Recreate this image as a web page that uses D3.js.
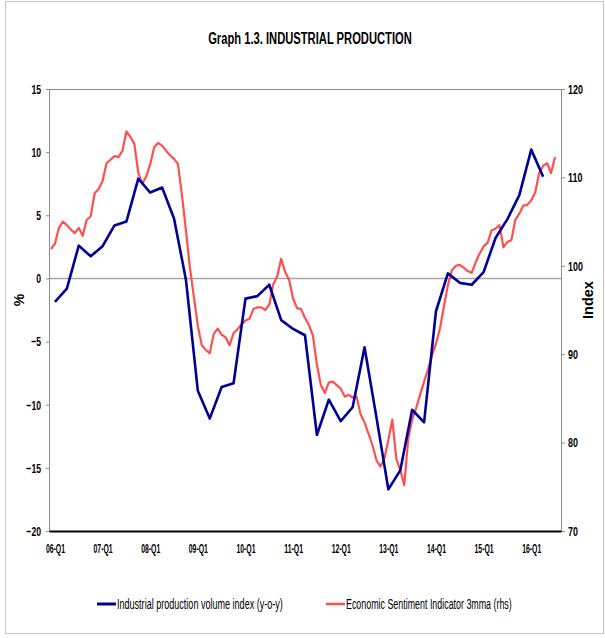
<!DOCTYPE html>
<html>
<head>
<meta charset="utf-8">
<script src="https://cdn.jsdelivr.net/npm/d3@7"></script>
<style>
  body { margin: 0; background: #fff; }
  svg { display: block; font-family: "Liberation Sans", Arial, sans-serif; }
</style>
</head>
<body>
<svg id="chart" width="605" height="638"></svg>
<script>
// ------------------------------------
// Data
// ------------------------------------
// monthly category axis, Dec 2005 (index 0) .. Aug 2016 (index 128)
const monthCount = 129;
// x-axis labels, one per year, at January of each year (index 1, 13, 25 ...)
const xTickLabels = ["06-Q1", "07-Q1", "08-Q1", "09-Q1", "10-Q1", "11-Q1",
                     "12-Q1", "13-Q1", "14-Q1", "15-Q1", "16-Q1"];
const leftTicks = [-20, -15, -10, -5, 0, 5, 10, 15];
const rightTicks = [70, 80, 90, 100, 110, 120];

// Industrial production volume index, y-o-y %, quarterly 2006-Q1 .. 2016-Q2
const ipValues = [
  -1.85, -0.8, 2.6, 1.75, 2.55, 4.2, 4.5, 7.9, 6.8, 7.2, 4.75, -0.1,
  -8.9, -11.1, -8.6, -8.3, -1.6, -1.4, -0.5, -3.3, -4.0, -4.5, -12.4, -9.6,
  -11.3, -10.2, -5.45, -11.0, -16.7, -15.2, -10.4, -11.4, -2.6, 0.4, -0.35, -0.5,
  0.5, 3.2, 4.7, 6.6, 10.2, 8.05
];

// Economic Sentiment Indicator 3mma (rhs), monthly Dec 2005 .. Jul 2016
const esiValues = [
  101.9,
  102.5, 104.3, 105.0, 104.6, 104.1, 103.7, 104.3, 103.4, 105.2, 105.6, 108.2, 108.7,
  109.6, 111.6, 112.0, 112.4, 112.3, 113.0, 115.2, 114.6, 113.8, 110.5, 109.3, 110.1,
  111.5, 113.4, 113.9, 113.6, 113.0, 112.5, 112.1, 111.5, 108.0, 104.0, 99.8, 96.5,
  93.2, 91.0, 90.5, 90.1, 92.3, 92.9, 92.2, 91.9, 91.0, 92.4, 92.8, 93.4,
  93.8, 94.0, 95.1, 95.3, 95.3, 95.0, 95.6, 97.9, 98.8, 100.8, 99.3, 98.4,
  96.3, 95.2, 95.1, 94.1, 93.3, 92.1, 88.8, 86.5, 85.6, 86.8, 86.9, 86.5,
  86.1, 85.2, 85.4, 85.1, 85.2, 83.2, 82.3, 81.0, 79.7, 78.0, 77.3, 78.2,
  80.3, 82.6, 78.2, 76.9, 75.2, 80.4, 82.6, 83.9, 85.4, 86.9, 88.3, 89.9,
  91.2, 92.9, 95.4, 97.8, 99.5, 100.0, 100.1, 99.8, 99.4, 99.2, 100.4, 101.4,
  102.2, 102.6, 104.0, 104.2, 104.6, 102.1, 102.7, 102.9, 105.2, 105.9, 106.8, 106.9,
  107.4, 108.3, 110.5, 111.3, 111.6, 110.5, 112.3
];

const seriesNames = ["Industrial production volume index (y-o-y)",
                     "Economic Sentiment Indicator 3mma (rhs)"];
const colors = ["#000096", "#ff4f4f"];

// ------------------------------------
// Layout
// ------------------------------------
const plot = { left: 49, right: 561, top: 89, bottom: 531 };
const svg = d3.select("#chart");

// Squeeze text horizontally around its anchor (original is a condensed rendering).
// f = fixed factor, or target width in px when asWidth is true
function squeeze(sel, f, asWidth) {
  sel.each(function () {
    const x = +this.getAttribute("x") || 0;
    const k = asWidth ? f / this.getComputedTextLength() : f;
    const prev = this.getAttribute("transform") || "";
    this.setAttribute("transform", `${prev} translate(${x * (1 - k)},0) scale(${k},1)`);
  });
}

// ------------------------------------
// Scales
// ------------------------------------
const x = d3.scaleLinear().domain([-0.5, monthCount - 0.5]).range([plot.left, plot.right]);
const yLeft = d3.scaleLinear().domain([-20, 15]).range([plot.bottom, plot.top]);
const yRight = d3.scaleLinear().domain([70, 120]).range([plot.bottom, plot.top]);

// outer frame
svg.append("rect")
  .attr("x", 5.5).attr("y", 1.5)
  .attr("width", 598).attr("height", 632)
  .attr("fill", "none")
  .attr("stroke", "#c4c4c4");

// Title
svg.append("text")
  .attr("x", 310).attr("y", 44)
  .attr("text-anchor", "middle")
  .style("font-weight", "bold")
  .style("font-size", "17px")
  .text("Graph 1.3. INDUSTRIAL PRODUCTION")
  .call(squeeze, 204, true);

// plot frame top line
svg.append("line")
  .attr("x1", plot.left).attr("x2", plot.right)
  .attr("y1", plot.top + 0.5).attr("y2", plot.top + 0.5)
  .attr("stroke", "#8c8c8c");

// zero line
svg.append("line")
  .attr("x1", plot.left).attr("x2", plot.right)
  .attr("y1", yLeft(0)).attr("y2", yLeft(0))
  .attr("stroke", "#a6a6a6")
  .attr("stroke-width", 1.5);

// Left axis
const gLeft = svg.append("g")
  .attr("transform", `translate(${plot.left},0)`)
  .call(d3.axisLeft(yLeft).tickValues(leftTicks).tickSize(3).tickPadding(5));
gLeft.select(".domain").attr("stroke", "#8c8c8c");
gLeft.selectAll(".tick line").attr("stroke", "#8c8c8c");
gLeft.selectAll(".tick text")
  .attr("fill", "#000")
  .style("font-size", "13.5px")
  .style("font-weight", "bold")
  .call(squeeze, 0.64);

// Right axis
const gRight = svg.append("g")
  .attr("transform", `translate(${plot.right},0)`)
  .call(d3.axisRight(yRight).tickValues(rightTicks).tickSize(4).tickPadding(3));
gRight.select(".domain").attr("stroke", "#8c8c8c");
gRight.selectAll(".tick line").attr("stroke", "#8c8c8c");
gRight.selectAll(".tick text")
  .attr("fill", "#000")
  .style("font-size", "13.5px")
  .style("font-weight", "bold")
  .call(squeeze, 0.66);

// Bottom axis
const gBottom = svg.append("g")
  .attr("transform", `translate(0,${plot.bottom})`)
  .call(d3.axisBottom(x)
    .tickValues(xTickLabels.map((d, i) => 1 + i * 12))
    .tickFormat((d, i) => xTickLabels[i])
    .tickSize(0)
    .tickPadding(12));
gBottom.select(".domain").attr("stroke", "#000").attr("stroke-width", 2);
gBottom.selectAll(".tick text")
  .attr("fill", "#000")
  .style("font-size", "13.5px")
  .style("font-weight", "bold")
  .call(squeeze, 0.51);

// Axis titles
svg.append("text")
  .attr("transform", "translate(24,300) rotate(-90)")
  .attr("text-anchor", "middle")
  .style("font-size", "14px")
  .style("font-weight", "bold")
  .text("%");

svg.append("text")
  .attr("transform", "translate(593,300) rotate(-90)")
  .attr("text-anchor", "middle")
  .style("font-size", "14.5px")
  .style("font-weight", "bold")
  .text("Index");

// ------------------------------------
// Lines
// ------------------------------------
// ESI: one point per month; IP: one point per quarter (Jan, Apr, Jul, Oct)
const esiLine = d3.line()
  .x((d, i) => x(i))
  .y(d => yRight(d));

const ipLine = d3.line()
  .x((d, i) => x(1 + i * 3))
  .y(d => yLeft(d));

svg.append("path")
  .datum(esiValues)
  .attr("fill", "none")
  .attr("stroke", colors[1])
  .attr("stroke-width", 2.2)
  .attr("stroke-linejoin", "round")
  .attr("d", esiLine);

svg.append("path")
  .datum(ipValues)
  .attr("fill", "none")
  .attr("stroke", colors[0])
  .attr("stroke-width", 2.6)
  .attr("stroke-linejoin", "round")
  .attr("d", ipLine);

// ------------------------------------
// Legend
// ------------------------------------
const legendX = [97, 326];
const legend = svg.append("g");
seriesNames.forEach((name, i) => {
  legend.append("line")
    .attr("x1", legendX[i]).attr("x2", legendX[i] + 19)
    .attr("y1", 604).attr("y2", 604)
    .attr("stroke", colors[i])
    .attr("stroke-width", i === 0 ? 3 : 2.5);
  legend.append("text")
    .attr("x", legendX[i] + 20).attr("y", 609.5)
    .style("font-size", "15px")
    .text(name)
    .call(squeeze, 166, true);
});
</script>
</body>
</html>
